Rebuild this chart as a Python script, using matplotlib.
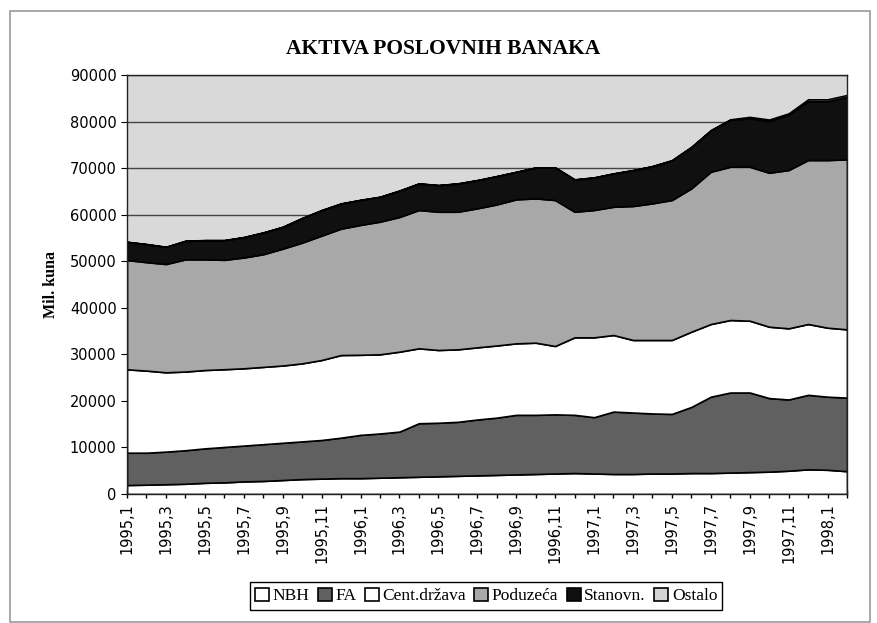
import numpy as np
import matplotlib

matplotlib.use('Agg')
import matplotlib.pyplot as plt
from matplotlib.patches import Rectangle, Patch

# monthly categories 1995,1 .. 1998,2
months = ['%d,%d' % (1995 + m // 12, m % 12 + 1) for m in range(38)]

nbh = [1930, 2000, 2100, 2200, 2400, 2500, 2700, 2800, 3000, 3200,
       3300, 3400, 3400, 3500, 3600, 3700, 3800, 3900, 4000, 4100,
       4200, 4300, 4400, 4500, 4400, 4300, 4300, 4400, 4400, 4500,
       4500, 4600, 4700, 4800, 5000, 5300, 5200, 4900]
fa = [6940, 6870, 7000, 7200, 7400, 7600, 7700, 7900, 8000, 8100,
      8300, 8700, 9300, 9500, 9800, 11500, 11500, 11600, 12000, 12300,
      12800, 12700, 12700, 12500, 12100, 13400, 13200, 12900, 12800, 14200,
      16400, 17200, 17100, 15800, 15300, 16000, 15700, 15800]
cent = [17910, 17630, 17040, 16900, 16830, 16700, 16600, 16600, 16600, 16760,
        17180, 17750, 17200, 17000, 17170, 16090, 15630, 15570, 15500, 15500,
        15360, 15500, 14690, 16650, 17150, 16450, 15580, 15780, 15880, 16160,
        15610, 15570, 15420, 15330, 15290, 15210, 14820, 14670]
poduz = [23480, 23300, 23260, 24100, 23770, 23500, 23800, 24200, 25100, 25940,
         26720, 27150, 27900, 28500, 28930, 29710, 29700, 29560, 29860, 30300,
         30930, 31000, 31350, 26980, 27350, 27550, 28780, 29350, 30060, 30790,
         32710, 32920, 33070, 33070, 34000, 35220, 36010, 36510]
stan = [3880, 3850, 3660, 3950, 4100, 4200, 4350, 4650, 4660, 5250,
        5450, 5380, 5350, 5310, 5650, 5680, 5690, 6050, 6030, 6050,
        5880, 6610, 6970, 6910, 6970, 7130, 7680, 7970, 8490, 8840,
        8860, 10080, 10410, 11130, 11870, 12640, 12640, 13420]
ostalo = [50, 50, 50, 50, 50, 50, 50, 50, 50, 50,
          50, 50, 50, 50, 50, 50, 50, 50, 50, 50,
          50, 50, 50, 50, 50, 50, 50, 50, 100, 100,
          100, 100, 300, 300, 300, 400, 400, 400]

names = ['NBH', 'FA', 'Cent.država', 'Poduzeća', 'Stanovn.', 'Ostalo']
colors = ['#ffffff', '#606060', '#ffffff', '#a8a8a8', '#101010', '#d4d4d4']

x = np.arange(len(months))
fig = plt.figure(figsize=(8.78, 6.23), dpi=100)
ax = fig.add_axes([127 / 878, 1 - 494 / 623, 720 / 878, 419 / 623])

# outer chart frame
fig.patches.append(Rectangle((10 / 878, 1 - 622 / 623), 860 / 878, 611 / 623,
                             transform=fig.transFigure, fill=False,
                             edgecolor='#999999', lw=1.2))

ax.set_facecolor('#d9d9d9')
ax.stackplot(x, nbh, fa, cent, poduz, stan, ostalo, colors=colors,
             edgecolor='black', linewidth=1.2, zorder=2)

ax.set_xlim(0, len(months) - 1)
ax.set_ylim(0, 90000)
ax.set_yticks(np.arange(0, 90001, 10000))
ax.yaxis.grid(True, color='#444444', lw=1.0, zorder=0)
ax.set_axisbelow(True)
ax.set_xticks(x, minor=True)
ax.set_xticks(x[::2])
ax.set_xticklabels(months[::2], rotation=90, fontsize=10.5, family='DejaVu Sans')
ax.tick_params(axis='x', which='both', direction='inout', length=6, width=1)
ax.tick_params(axis='y', direction='out', length=4, labelsize=10.5)
for lab in ax.get_yticklabels():
    lab.set_family('DejaVu Sans')
for s in ax.spines.values():
    s.set_linewidth(1.0)
    s.set_color('#222222')

ax.set_ylabel('Mil. kuna', family='Liberation Serif', fontweight='bold',
              fontsize=11.5, labelpad=8)
fig.text(443 / 878, 1 - 49 / 623, 'AKTIVA POSLOVNIH BANAKA', ha='center',
         va='center', family='Liberation Serif', fontweight='bold', fontsize=15.5)

handles = [Patch(facecolor=c, edgecolor='black', lw=1.2) for c in colors]
leg = fig.legend(handles, names, loc='center', ncol=6,
                 bbox_to_anchor=(486 / 878, 1 - 596 / 623),
                 prop={'family': 'Liberation Serif', 'size': 12.5},
                 fancybox=False, edgecolor='black', framealpha=1,
                 handlelength=0.8, handleheight=0.8, handletextpad=0.2,
                 columnspacing=0.5, borderpad=0.3)
leg.get_frame().set_linewidth(1.0)

fig.savefig('out.png', dpi=100)
